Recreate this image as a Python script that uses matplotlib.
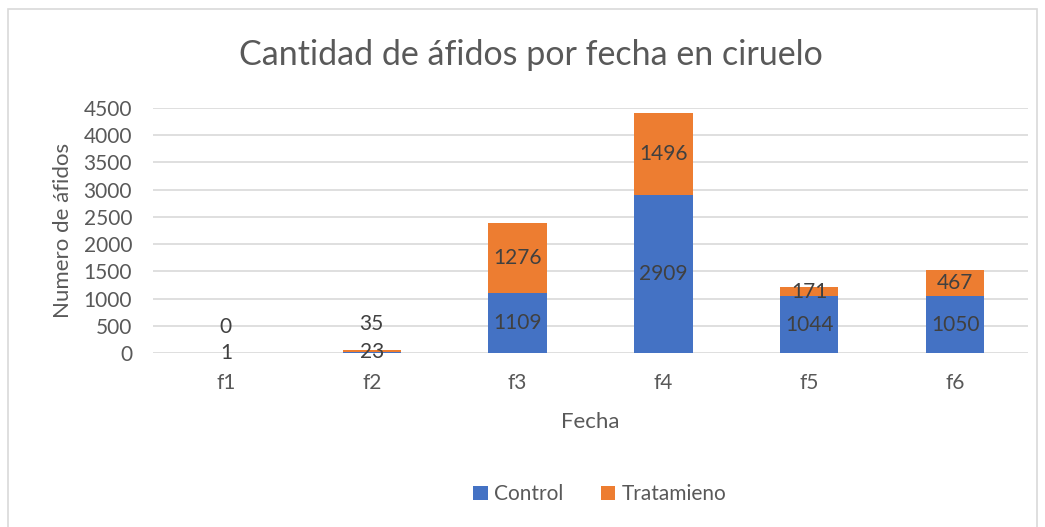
import matplotlib.pyplot as plt
import numpy as np
from matplotlib.patches import Rectangle

fechas = ['f1', 'f2', 'f3', 'f4', 'f5', 'f6']
control = [1, 23, 1109, 2909, 1044, 1050]
tratamiento = [0, 35, 1276, 1496, 171, 467]

plt.rcParams['font.family'] = ['Lato', 'DejaVu Sans']
azul = '#4472C4'
naranja = '#ED7D31'
gris = '#595959'

fig = plt.figure(figsize=(10.45, 5.27), dpi=100)
ax = fig.add_axes([0.1464, 0.330, 0.8373, 0.465])

x = np.arange(len(fechas))
w = 0.4
ax.bar(x, control, w, color=azul, label='Control', zorder=3)
ax.bar(x, tratamiento, w, bottom=control, color=naranja, label='Tratamieno', zorder=3)

# etiquetas de datos (centradas; se separan cuando el segmento es muy pequeño)
for i in range(len(fechas)):
    yc = control[i] / 2
    yt = control[i] + tratamiento[i] / 2
    ax.annotate(str(control[i]), (x[i], yc), ha='center', va='center',
                fontsize=15, color='#404040', zorder=4)
    off = 19 if yt - yc < 300 else 0
    ax.annotate(str(tratamiento[i]), (x[i], yt), xytext=(0, off),
                textcoords='offset points', ha='center', va='center',
                fontsize=15, color='#404040', zorder=4)

ax.set_xlim(-0.5, len(fechas) - 0.5)
ax.set_ylim(0, 4500)
ax.set_yticks(range(0, 4501, 500))
ax.set_xticks(x)
ax.set_xticklabels(fechas)
ax.grid(axis='y', color='#D9D9D9', linewidth=1.2, zorder=0)
for s in ax.spines.values():
    s.set_visible(False)
ax.tick_params(length=0, labelsize=15, colors=gris)
ax.tick_params(axis='x', pad=14)
ax.tick_params(axis='y', pad=15)

ax.set_xlabel('Fecha', fontsize=16, color=gris, labelpad=14)
ax.set_ylabel('Numero de áfidos', fontsize=16, color=gris, labelpad=8)
fig.text(0.508, 0.895, 'Cantidad de áfidos por fecha en ciruelo', ha='center',
         va='center', fontsize=24.5, color=gris)

fig.legend(loc='center', bbox_to_anchor=(0.574, 0.062), ncol=2, frameon=False,
           fontsize=15, labelcolor=gris, handlelength=0.7, handleheight=0.7,
           handletextpad=0.3, columnspacing=1.8)

fig.patches.append(Rectangle((8 / 1045, -0.05), 1029 / 1045, 1.05 - 9 / 527,
                             transform=fig.transFigure, fill=False,
                             edgecolor='#D9D9D9', linewidth=1.2))

plt.savefig('out.png', dpi=100)
